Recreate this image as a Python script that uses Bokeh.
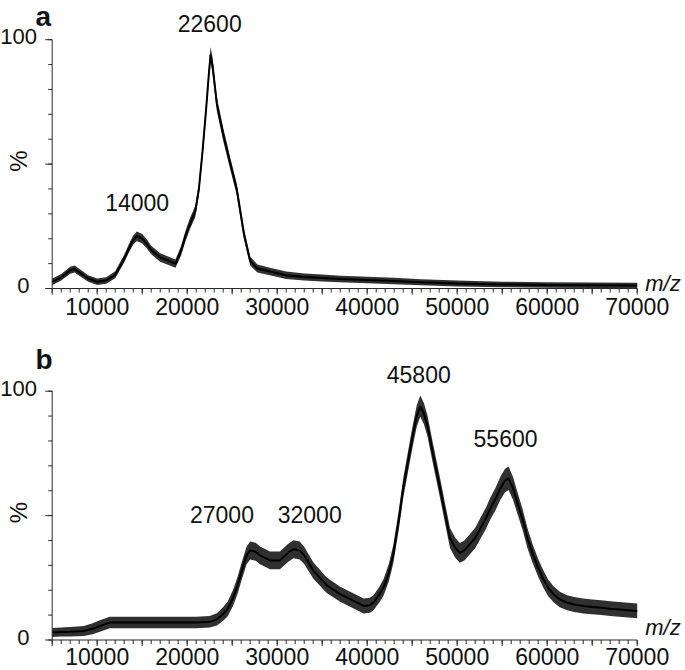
from math import pi
from bokeh.plotting import figure
from bokeh.layouts import column
from bokeh.models import Range1d, Label
from bokeh.embed import file_html
from bokeh.resources import INLINE

FONT = "Liberation Sans"

# ---------------- data: panel a ----------------
mz_a = [5000, 6000, 7000, 7500, 8000, 9000, 10000, 11000, 12000, 13000, 13500, 14000,
        14400, 15000, 15500, 16000, 17000, 18000, 18700, 19300, 19800, 20300, 20900,
        21300, 21700, 22100, 22400, 22600, 22800, 23300, 24000, 24800, 25500, 26300,
        27000, 27800, 29300, 31000, 33000, 35000, 37000, 40000, 43000, 46000, 50000,
        55000, 60000, 65000, 70000]
int_a = [2.7, 4.5, 7.3, 7.8, 6.5, 4.0, 2.7, 3.2, 5.5, 12, 16, 19.5,
         21, 20, 18, 15.5, 12.5, 11, 10, 15, 21, 26, 31,
         40, 55, 72, 86, 94, 90, 74, 62, 50, 40, 22,
         11, 8, 6.7, 5.3, 4.6, 4.2, 3.8, 3.4, 3.0, 2.5, 2.0,
         1.6, 1.4, 1.3, 1.2]
noise_a = [1.3, 1.3, 1.4, 1.4, 1.4, 1.3, 1.3, 1.3, 1.4, 1.6, 1.7, 1.8,
           1.9, 1.9, 1.8, 1.7, 1.7, 1.7, 1.7, 1.9, 2.1, 2.2, 2.3,
           2.4, 2.6, 2.8, 3.0, 3.1, 3.1, 2.8, 2.6, 2.4, 2.3, 2.1,
           1.8, 1.6, 1.5, 1.5, 1.4, 1.4, 1.3, 1.3, 1.3, 1.2, 1.2,
           1.1, 1.1, 1.1, 1.1]
peak_text_a = ["14000", "22600"]
peak_x_a = [14440, 22500]
peak_y_a = [34.4, 106.7]

# ---------------- data: panel b ----------------
mz_b = [5000, 6000, 7000, 8500, 9500, 10300, 11400, 13000, 15000, 17000, 19000, 21000,
        22500, 23300, 24000, 24500, 25100, 25600, 26000, 26600, 27000, 27600, 28100,
        29200, 30300, 31200, 31800, 32500, 33000, 34000, 35500, 37000, 38500, 39600,
        40300, 40700, 41300, 41800, 42400, 42900, 43500, 44000, 44500, 45000, 45500,
        45900, 46300, 46700, 47300, 48100, 48700, 49200, 49800, 50300, 50800, 51400,
        52000, 52600, 53200, 53700, 54300, 54800, 55300, 55700, 56200, 56700, 57300,
        57800, 58400, 59000, 59500, 60100, 60700, 61400, 62200, 63000, 64000, 65000,
        66000, 67000, 68000, 69000, 70000]
int_b = [3.0, 3.2, 3.3, 3.6, 4.5, 5.6, 7.0, 7.0, 7.0, 7.0, 7.0, 7.0,
         7.3, 8.3, 10.5, 12.5, 17, 22, 27, 34, 36, 35.5, 34,
         32, 32, 35, 36.5, 36, 34, 28, 22, 18.4, 15.7, 13.7,
         14, 15, 18, 21, 27, 34.5, 48, 61, 71, 81, 90,
         94, 91, 86, 75, 61, 50, 41, 37, 35, 36, 38.5,
         41, 45, 49, 53, 57, 61, 64, 65, 61, 55, 48,
         41, 34.5, 29, 25, 21, 18.4, 16.3, 15, 14.3, 13.7, 13.3,
         13, 12.6, 12.3, 12, 11.7]
noise_b = [1.8, 1.8, 1.9, 2.0, 2.2, 2.3, 2.3, 2.3, 2.3, 2.3, 2.3, 2.3,
           2.3, 2.5, 2.8, 3.0, 3.2, 3.4, 3.5, 3.6, 3.6, 3.6, 3.6,
           3.6, 3.6, 3.6, 3.6, 3.6, 3.5, 3.3, 3.1, 3.0, 3.0, 3.0,
           3.0, 3.0, 3.1, 3.3, 3.5, 3.7, 3.9, 4.0, 4.1, 4.2, 4.3,
           4.3, 4.3, 4.2, 4.1, 4.0, 4.0, 4.0, 4.0, 4.0, 4.0, 4.0,
           4.1, 4.2, 4.3, 4.4, 4.5, 4.6, 4.7, 4.7, 4.6, 4.4, 4.2,
           4.0, 3.8, 3.6, 3.5, 3.3, 3.2, 3.1, 3.0, 3.0, 3.0, 3.0,
           3.0, 3.0, 3.0, 3.0, 3.0]
peak_text_b = ["27000", "32000", "45800", "55600"]
peak_x_b = [23860, 33610, 45730, 55370]
peak_y_b = [50.3, 50.5, 106.6, 80.8]

# ---------------- axes data ----------------
x_major = list(range(5000, 70001, 5000))
x_minor = list(range(5000, 70001, 1000))
x_label_vals = list(range(10000, 70001, 10000))
y_major = [0, 50, 100]
y_minor = list(range(0, 101, 10))
y_label_vals = [0, 100]
y_label_x = [1810, 1260]

# ---------------- layout constants (pixels) ----------------
W = 684
X0_PX = 51.7          # pixel of m/z 5000
PX_PER_MZ = 0.009     # 9 px per 1000
SCALE = 2.488         # px per percent
AX = "#2a2a2a"


def make_panel(letter, mz, inten, noise, ptext, px, py, height, axis_px,
               letter_y, mz_label_y, xlab_off):
    x_start = 5000 - X0_PX / PX_PER_MZ
    x_end = 5000 + (W - X0_PX) / PX_PER_MZ
    y_end = axis_px / SCALE
    y_start = -(height - axis_px) / SCALE
    p = figure(width=W, height=height,
               x_range=Range1d(x_start, x_end), y_range=Range1d(y_start, y_end),
               x_axis_location=None, y_axis_location=None,
               output_backend="svg", toolbar_location=None, title=None,
               min_border=0, min_border_left=0, min_border_right=0,
               min_border_top=0, min_border_bottom=0)
    p.outline_line_color = None
    p.xgrid.visible = False
    p.ygrid.visible = False
    p.background_fill_color = "white"
    p.border_fill_color = "white"

    # spectrum (noise band + trace)
    lo = [v - n for v, n in zip(inten, noise)]
    hi = [v + n for v, n in zip(inten, noise)]
    p.varea(x=mz, y1=lo, y2=hi, fill_color="#1e1e1e", fill_alpha=0.92)
    p.line(mz, inten, line_color="#000000", line_width=2)

    # axes drawn through the plot's scales
    xt_major = 6 / SCALE
    xt_minor = 4 / SCALE
    yt_major = 7 / PX_PER_MZ
    yt_minor = 4 / PX_PER_MZ
    p.segment(x0=[x_major[0]], y0=[0], x1=[x_major[-1]], y1=[0],
              line_color=AX, line_width=1)
    p.segment(x0=x_minor, y0=[0] * len(x_minor), x1=x_minor,
              y1=[-xt_minor] * len(x_minor), line_color=AX, line_width=1)
    p.segment(x0=x_major, y0=[0] * len(x_major), x1=x_major,
              y1=[-xt_major] * len(x_major), line_color=AX, line_width=1)
    p.segment(x0=[5000], y0=[y_major[0]], x1=[5000], y1=[y_major[-1]],
              line_color=AX, line_width=1)
    p.segment(x0=[5000] * len(y_minor), y0=y_minor,
              x1=[5000 - yt_minor] * len(y_minor), y1=y_minor,
              line_color=AX, line_width=1)
    p.segment(x0=[5000] * len(y_major), y0=y_major,
              x1=[5000 - yt_major] * len(y_major), y1=y_major,
              line_color=AX, line_width=1)

    for t in x_label_vals:
        p.add_layout(Label(x=t, y=0, y_offset=xlab_off, text=str(t),
                           text_align="center", text_baseline="middle",
                           text_font=FONT, text_font_size="23px",
                           text_color="#111111"))
    for t, lx in zip(y_label_vals, y_label_x):
        p.add_layout(Label(x=lx, y=t, y_offset=3, text=str(t),
                           text_align="center", text_baseline="middle",
                           text_font=FONT, text_font_size="22px",
                           text_color="#111111"))
    p.add_layout(Label(x=1200, y=50, y_offset=3, text="%", angle=pi / 2,
                       text_align="center", text_baseline="middle",
                       text_font=FONT, text_font_size="24px",
                       text_color="#111111"))
    p.add_layout(Label(x=70000, x_offset=8, y=mz_label_y, text="m/z",
                       text_align="left", text_baseline="middle",
                       text_font=FONT, text_font_size="22px",
                       text_font_style="italic", text_color="#111111"))
    p.add_layout(Label(x=3150, y=letter_y, text=letter, text_align="left",
                       text_baseline="middle", text_font=FONT,
                       text_font_size="28px", text_font_style="bold",
                       text_color="#111111"))
    for t, x, y in zip(ptext, px, py):
        p.add_layout(Label(x=x, y=y, text=t, text_align="center",
                           text_baseline="middle", text_font=FONT,
                           text_font_size="23px", text_color="#111111"))
    return p


pa = make_panel("a", mz_a, int_a, noise_a, peak_text_a, peak_x_a, peak_y_a,
                325, 288.0, 109.3, 2.0, -18)
pb = make_panel("b", mz_b, int_b, noise_b, peak_text_b, peak_x_b, peak_y_b,
                345, 314.5, 112.9, 5.1, -16.5)

layout = column(pa, pb, spacing=0)
open("out.html", "w").write(file_html(layout, INLINE))
